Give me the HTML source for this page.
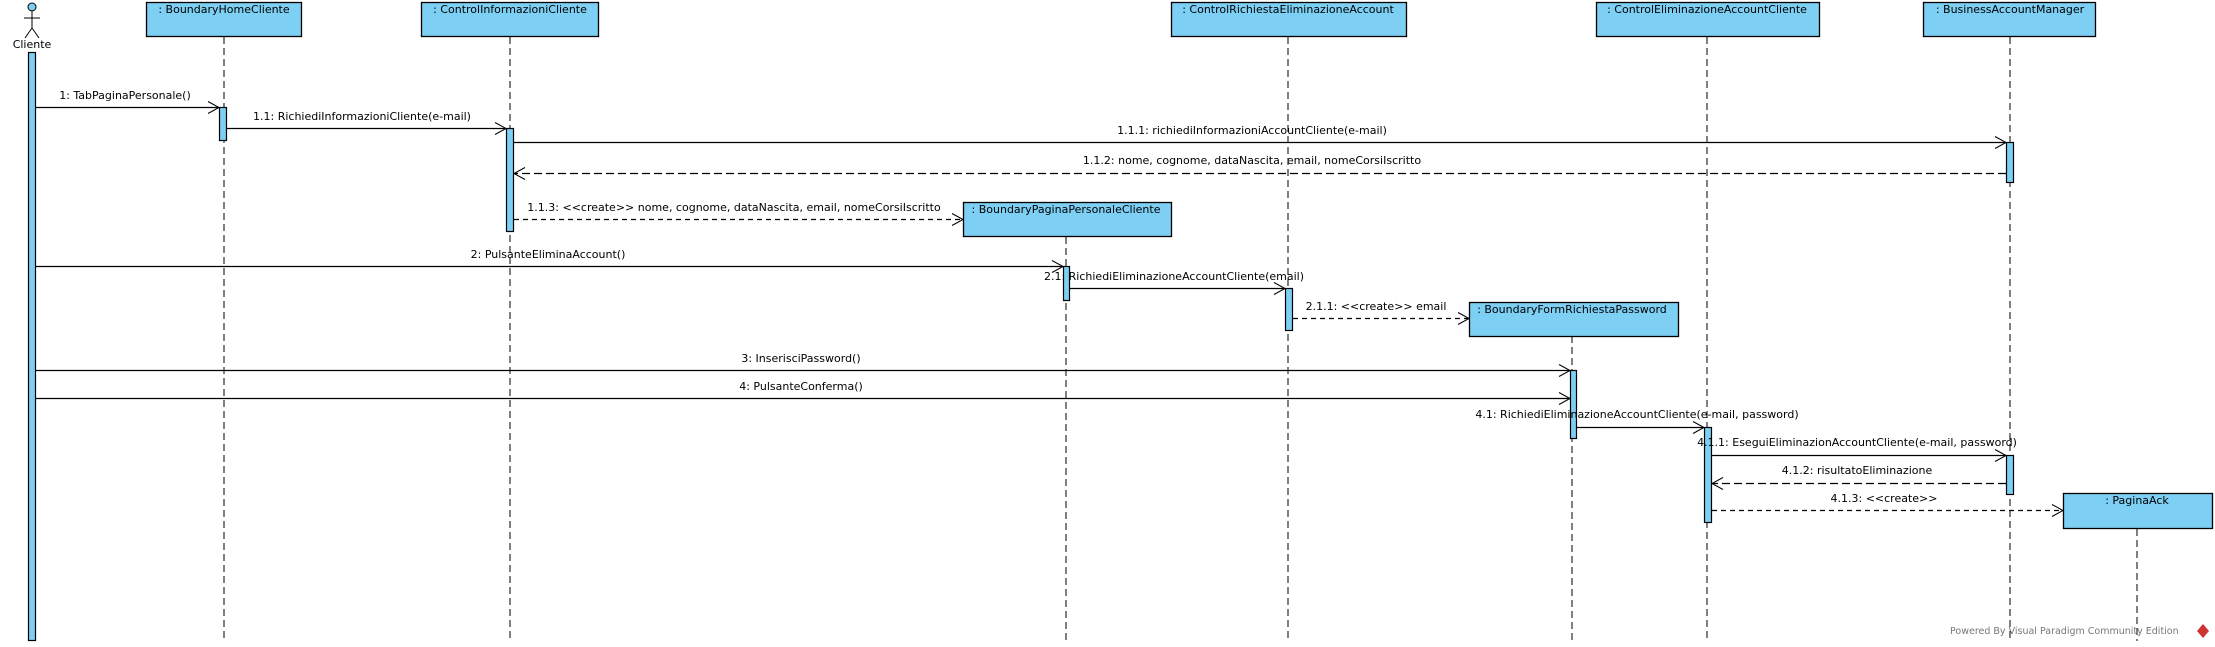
<!DOCTYPE html>
<html><head><meta charset="utf-8"><style>
html,body{margin:0;padding:0;background:#fff;}
svg{display:block;}
text{font-family:"DejaVu Sans",sans-serif;font-size:11px;fill:#000;}
</style></head><body>
<svg width="2215" height="647" viewBox="0 0 2215 647" xmlns="http://www.w3.org/2000/svg">
<defs>
<marker id="a" markerWidth="14" markerHeight="14" refX="12" refY="7" orient="auto" markerUnits="userSpaceOnUse">
<path d="M1,1 L12,7 L1,13" fill="none" stroke="#000" stroke-width="1"/>
</marker>
</defs>
<g stroke="#000" stroke-width="1" stroke-dasharray="7,4" fill="none">
<line x1="224" y1="37" x2="224" y2="641"/>
<line x1="510" y1="37" x2="510" y2="641"/>
<line x1="1288" y1="37" x2="1288" y2="641"/>
<line x1="1707" y1="37" x2="1707" y2="641"/>
<line x1="2010" y1="37" x2="2010" y2="641"/>
<line x1="1066" y1="237" x2="1066" y2="641"/>
<line x1="1572" y1="336" x2="1572" y2="641"/>
<line x1="2137" y1="529" x2="2137" y2="641"/>
</g>
<g fill="#7dcff3" stroke="#000" stroke-width="1.3">
<rect x="146.5" y="2.5" width="155" height="34"/>
<rect x="421.5" y="2.5" width="177" height="34"/>
<rect x="1171.5" y="2.5" width="235" height="34"/>
<rect x="1596.5" y="2.5" width="223" height="34"/>
<rect x="1923.5" y="2.5" width="172" height="34"/>
<rect x="963.5" y="202.5" width="208" height="34"/>
<rect x="1469.5" y="302.5" width="209" height="34"/>
<rect x="2063.5" y="493.5" width="149" height="35"/>
</g>
<g text-anchor="middle">
<text x="224" y="13">: BoundaryHomeCliente</text>
<text x="510" y="13">: ControlInformazioniCliente</text>
<text x="1288" y="13">: ControlRichiestaEliminazioneAccount</text>
<text x="1707" y="13">: ControlEliminazioneAccountCliente</text>
<text x="2010" y="13">: BusinessAccountManager</text>
<text x="1066" y="213">: BoundaryPaginaPersonaleCliente</text>
<text x="1572" y="313">: BoundaryFormRichiestaPassword</text>
<text x="2137" y="504">: PaginaAck</text>
</g>
<circle cx="32" cy="7" r="4" fill="#7dcff3" stroke="#000"/>
<g stroke="#000" fill="none">
<line x1="32" y1="11" x2="32" y2="28"/>
<line x1="24" y1="18" x2="40" y2="18"/>
<line x1="32" y1="28" x2="25" y2="38"/>
<line x1="32" y1="28" x2="39" y2="38"/>
</g>
<text x="32" y="48" text-anchor="middle">Cliente</text>
<g fill="#7dcff3" stroke="#000" stroke-width="1.2">
<rect x="28.5" y="52.5" width="7" height="588"/>
<rect x="219.5" y="107.5" width="7" height="33"/>
<rect x="506.5" y="128.5" width="7" height="103"/>
<rect x="2006.5" y="142.5" width="7" height="40"/>
<rect x="1063.5" y="266.5" width="6" height="34"/>
<rect x="1285.5" y="288.5" width="7" height="42"/>
<rect x="1570.5" y="370.5" width="6" height="68"/>
<rect x="1704.5" y="427.5" width="7" height="95"/>
<rect x="2006.5" y="455.5" width="7" height="39"/>
</g>
<g stroke="#000" stroke-width="1.2" fill="none" marker-end="url(#a)">
<line x1="36" y1="107.5" x2="219" y2="107.5"/>
<line x1="227" y1="128.5" x2="506" y2="128.5"/>
<line x1="514" y1="142.5" x2="2006" y2="142.5"/>
<line x1="2006" y1="173.5" x2="514" y2="173.5" stroke-dasharray="8,4"/>
<line x1="514" y1="219.5" x2="963" y2="219.5" stroke-dasharray="5,4"/>
<line x1="36" y1="266.5" x2="1063" y2="266.5"/>
<line x1="1070" y1="288.5" x2="1285" y2="288.5"/>
<line x1="1293" y1="318.5" x2="1469" y2="318.5" stroke-dasharray="5,4"/>
<line x1="36" y1="370.5" x2="1570" y2="370.5"/>
<line x1="36" y1="398.5" x2="1570" y2="398.5"/>
<line x1="1577" y1="427.5" x2="1704" y2="427.5"/>
<line x1="1712" y1="455.5" x2="2006" y2="455.5"/>
<line x1="2006" y1="483.5" x2="1712" y2="483.5" stroke-dasharray="8,4"/>
<line x1="1712" y1="510.5" x2="2063" y2="510.5" stroke-dasharray="5,4"/>
</g>
<g text-anchor="middle">
<text x="125" y="99">1: TabPaginaPersonale()</text>
<text x="362" y="120">1.1: RichiediInformazioniCliente(e-mail)</text>
<text x="1252" y="134">1.1.1: richiediInformazioniAccountCliente(e-mail)</text>
<text x="1252" y="164">1.1.2: nome, cognome, dataNascita, email, nomeCorsiIscritto</text>
<text x="734" y="211">1.1.3: &lt;&lt;create&gt;&gt; nome, cognome, dataNascita, email, nomeCorsiIscritto</text>
<text x="548" y="258">2: PulsanteEliminaAccount()</text>
<text x="1174" y="280">2.1: RichiediEliminazioneAccountCliente(email)</text>
<text x="1376" y="310">2.1.1: &lt;&lt;create&gt;&gt; email</text>
<text x="801" y="362">3: InserisciPassword()</text>
<text x="801" y="390">4: PulsanteConferma()</text>
<text x="1637" y="418">4.1: RichiediEliminazioneAccountCliente(e-mail, password)</text>
<text x="1857" y="446">4.1.1: EseguiEliminazionAccountCliente(e-mail, password)</text>
<text x="1857" y="474">4.1.2: risultatoEliminazione</text>
<text x="1884" y="502">4.1.3: &lt;&lt;create&gt;&gt;</text>
</g>
<text x="1950" y="634" style="font-size:9.5px;fill:#777">Powered By Visual Paradigm Community Edition</text>
<path d="M2203,624 L2209,631 L2203,638 L2197,631 Z" fill="#c33"/>
</svg>
</body></html>
